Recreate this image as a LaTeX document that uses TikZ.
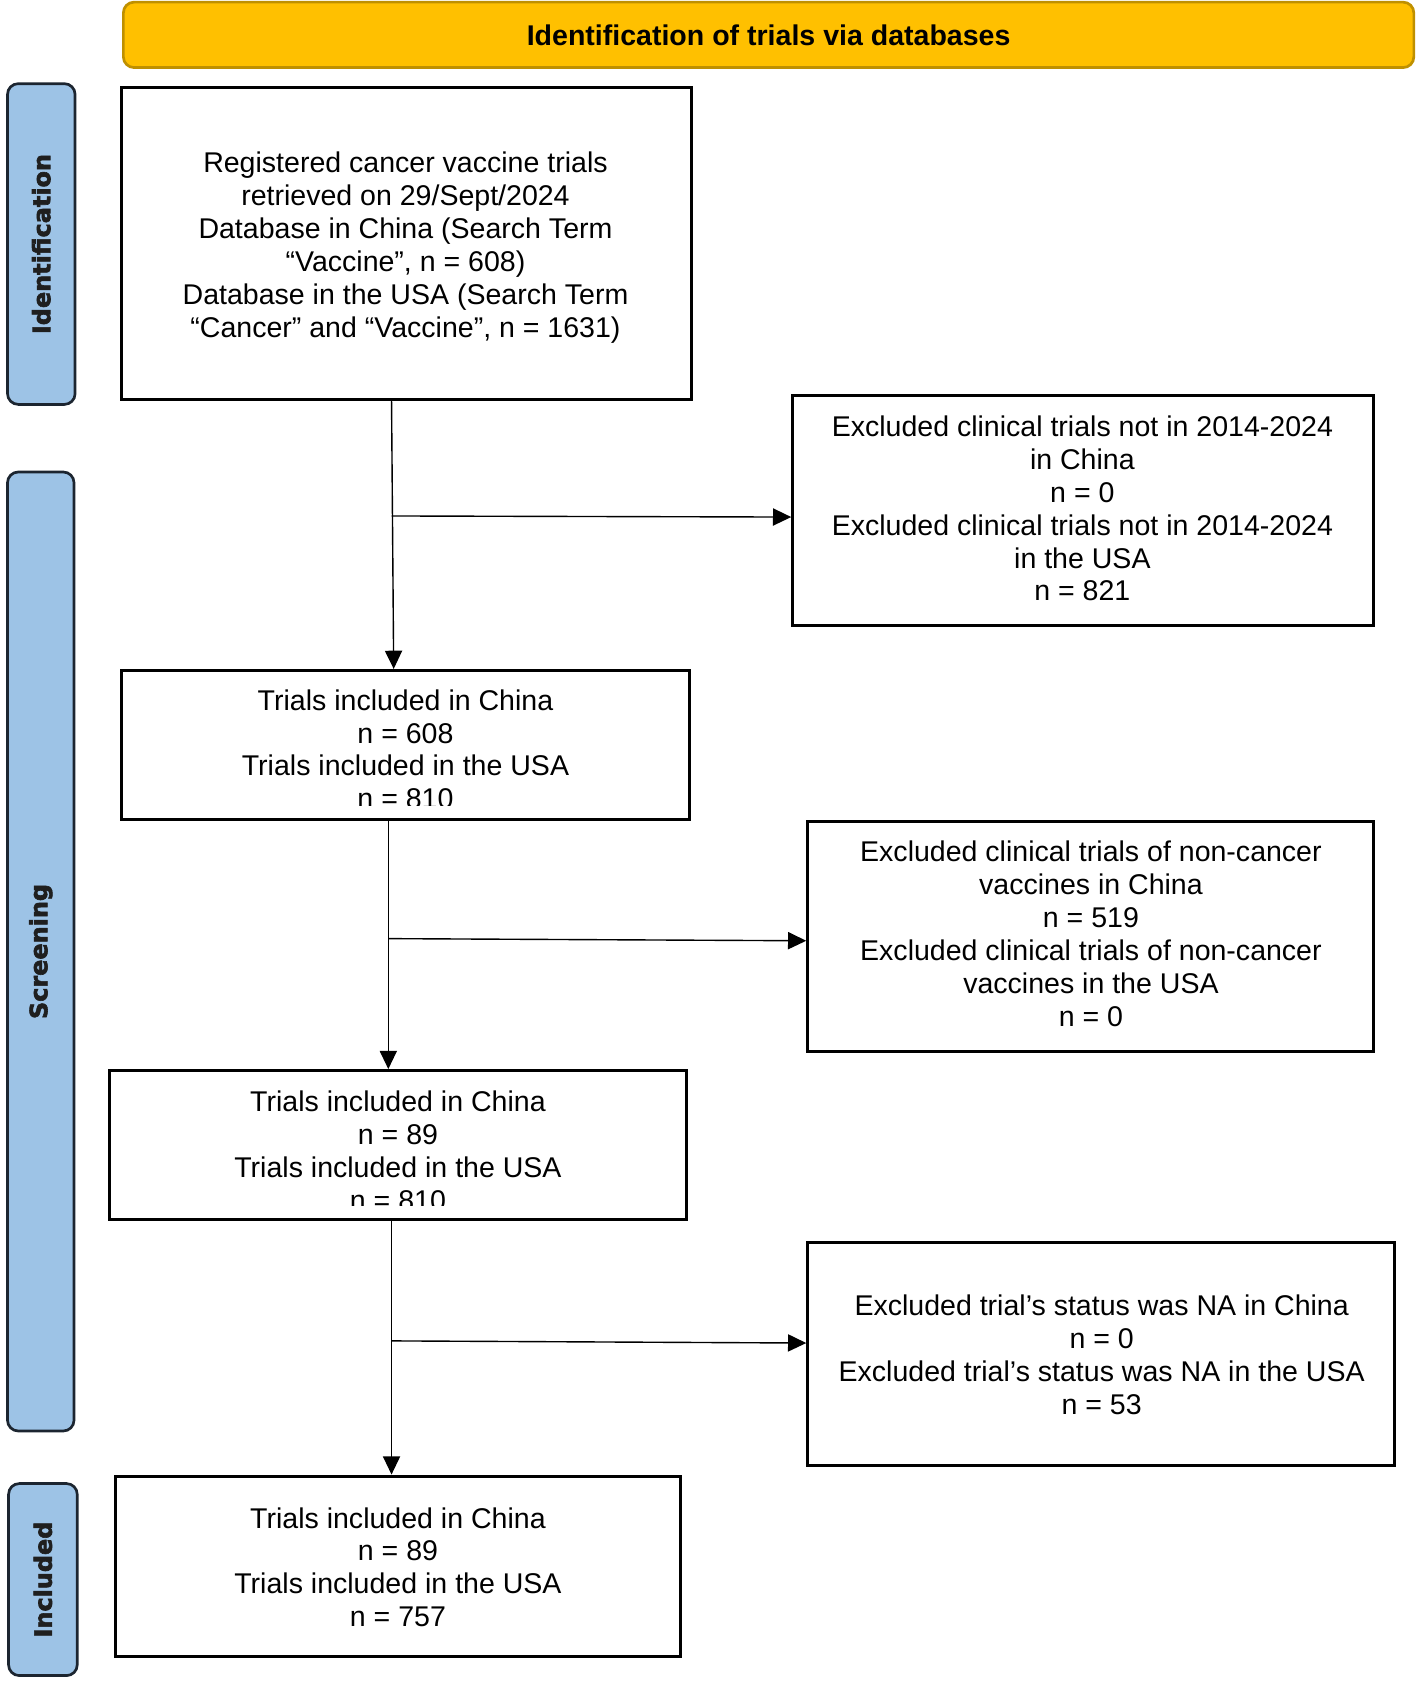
\documentclass[tikz,border=0pt]{standalone}
\usepackage{fontspec}
\setmainfont{Liberation Sans}
\newfontfamily\sidefont{DejaVu Sans}[BoldFeatures={FakeBold=2.5}]
\usetikzlibrary{arrows.meta}
\definecolor{gold}{HTML}{FFC000}
\definecolor{goldline}{HTML}{BF9000}
\definecolor{sideblue}{HTML}{9DC3E6}
\definecolor{sideline}{HTML}{1C2530}
\begin{document}
\begin{tikzpicture}[x=1pt,y=-1pt,
  box/.style={draw, line width=2.8pt, inner sep=0pt},
  txt/.style={align=center, font=\fontsize{26.6}{30.7}\selectfont, inner sep=0pt},
  side/.style={draw=sideline, fill=sideblue, line width=2.5pt, rounded corners=10pt, rotate=90, inner sep=0pt, text=black!88,
    font=\sidefont\bfseries\fontsize{22.3}{26}\selectfont},
  arr/.style={line width=1.3pt, -{Triangle[length=17pt,width=16pt]}},
  ln/.style={line width=1.3pt}]
\useasboundingbox (0,0) rectangle (1321,1568);

% banner
\node[draw=goldline, fill=gold, line width=2.5pt, rounded corners=10pt, minimum width=1203pt, minimum height=61pt, inner sep=0pt,
  font=\bfseries\fontsize{26.6}{30.7}\selectfont] (ban) at (716.5,32.5) {Identification of trials via databases};

% side bars
\node[side, minimum width=299pt, minimum height=63pt] (s1) at (38.5,227.5) {Identification};
\node[side, minimum width=894pt, minimum height=62pt] (s2) at (38,887) {Screening};
\node[side, minimum width=179pt, minimum height=64pt] (s3) at (40,1472.5) {Included};

% boxes
\node[box, minimum width=532pt, minimum height=290pt] (b1) at (379,227) {};
\node[box, minimum width=541pt, minimum height=214pt] (e1) at (1009.5,476) {};
\node[box, minimum width=530pt, minimum height=139pt] (b2) at (378,694.5) {};
\node[box, minimum width=527pt, minimum height=214pt] (e2) at (1016.5,873) {};
\node[box, minimum width=538pt, minimum height=139pt] (b3) at (371,1067.5) {};
\node[box, minimum width=547pt, minimum height=208pt] (e3) at (1026.5,1262) {};
\node[box, minimum width=526pt, minimum height=168pt] (b4) at (371,1460) {};

% texts
\node[txt] (t1) at (378,231) {Registered cancer vaccine trials\\retrieved on 29/Sept/2024\\Database in China (Search Term\\“Vaccine”, n = 608)\\Database in the USA (Search Term\\“Cancer” and “Vaccine”, n = 1631)};
\node[txt] (te1) at (1009,474) {Excluded clinical trials not in 2014-2024\\in China\\n = 0\\Excluded clinical trials not in 2014-2024\\in the USA\\n = 821};
\begin{scope}
\clip (0,0) rectangle (1321,751);
\node[txt] (t2) at (378,698.5) {Trials included in China\\n = 608\\Trials included in the USA\\n = 810};
\end{scope}
\node[txt] (te2) at (1017,870.5) {Excluded clinical trials of non-cancer\\vaccines in China\\n = 519\\Excluded clinical trials of non-cancer\\vaccines in the USA\\n = 0};
\begin{scope}
\clip (0,800) rectangle (1321,1124);
\node[txt] (t3) at (371,1072.5) {Trials included in China\\n = 89\\Trials included in the USA\\n = 810};
\end{scope}
\node[txt] (te3) at (1027,1263) {Excluded trial’s status was NA in China\\n = 0\\Excluded trial’s status was NA in the USA\\n = 53};
\node[txt] (t4) at (371,1461) {Trials included in China\\n = 89\\Trials included in the USA\\n = 757};

% connectors
\coordinate (j1) at (365,481);
\coordinate (j2) at (362,875);
\coordinate (j3) at (365,1250);
\draw[arr] ([xshift=-14pt]b1.south) -- ([xshift=-11pt]b2.north);
\draw[arr] (j1) -- ([yshift=-1pt]j1 -| e1.west);
\draw[arr] ([xshift=-16pt]b2.south) -- ([xshift=-9pt]b3.north);
\draw[arr] (j2) -- ([yshift=-2pt]j2 -| e2.west);
\draw[arr] ([xshift=-6pt]b3.south) -- ([xshift=-6pt]b4.north);
\draw[arr] (j3) -- ([yshift=-2pt]j3 -| e3.west);
\end{tikzpicture}
\end{document}
